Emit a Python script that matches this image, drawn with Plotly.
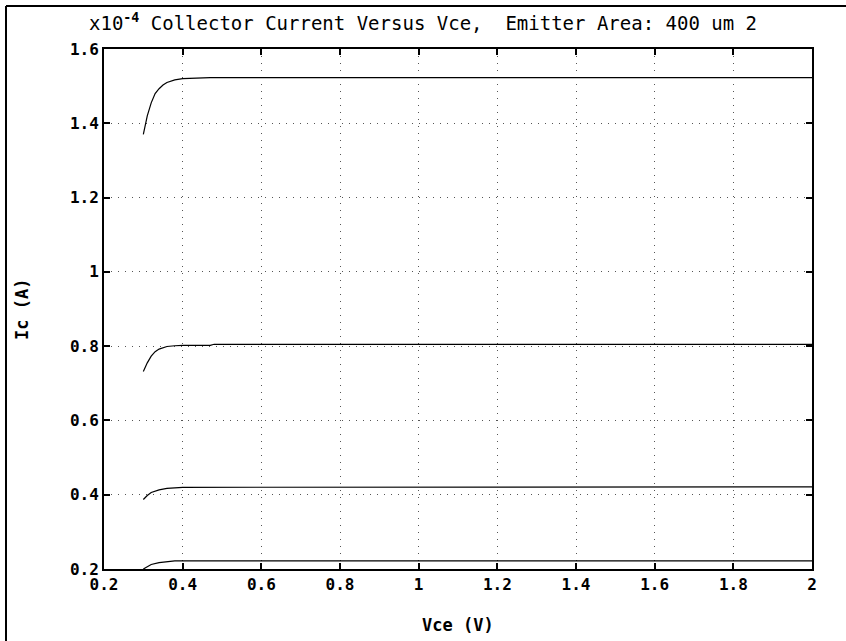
import plotly.graph_objects as go

# Vce (V) sample points and collector current (x1e-4 A) for each curve
vce_1 = [0.30, 0.31, 0.32, 0.33, 0.34, 0.35, 0.36, 0.38, 0.40, 0.46, 0.47, 2.00]
ic_1 = [1.370, 1.420, 1.455, 1.480, 1.493, 1.503, 1.510, 1.517, 1.520, 1.521, 1.523, 1.523]

vce_2 = [0.30, 0.31, 0.32, 0.33, 0.34, 0.36, 0.38, 0.40, 0.47, 0.48, 2.00]
ic_2 = [0.732, 0.755, 0.773, 0.785, 0.792, 0.799, 0.801, 0.802, 0.802, 0.805, 0.805]

vce_3 = [0.30, 0.31, 0.32, 0.34, 0.36, 0.38, 0.40, 2.00]
ic_3 = [0.387, 0.398, 0.406, 0.413, 0.417, 0.419, 0.420, 0.421]

vce_4 = [0.30, 0.31, 0.32, 0.34, 0.36, 0.38, 2.00]
ic_4 = [0.200, 0.207, 0.212, 0.217, 0.220, 0.222, 0.222]

x_ticks = [0.2, 0.4, 0.6, 0.8, 1.0, 1.2, 1.4, 1.6, 1.8, 2.0]
x_tick_labels = ["0.2", "0.4", "0.6", "0.8", "1", "1.2", "1.4", "1.6", "1.8", "2"]
y_ticks = [0.2, 0.4, 0.6, 0.8, 1.0, 1.2, 1.4, 1.6]
y_tick_labels = ["0.2", "0.4", "0.6", "0.8", "1", "1.2", "1.4", "1.6"]

title_text = "x10<sup><b>-4</b></sup> Collector Current Versus Vce,&nbsp; Emitter Area: 400 um 2"
x_title = "Vce (V)"
y_title = "Ic (A)"

FONT = "DejaVu Sans Mono"

fig = go.Figure()
for xs, ys in [(vce_1, ic_1), (vce_2, ic_2), (vce_3, ic_3), (vce_4, ic_4)]:
    fig.add_trace(go.Scatter(x=xs, y=ys, mode="lines",
                             line=dict(color="black", width=1.2),
                             showlegend=False, hoverinfo="skip"))

W, H = 846, 641
L, R, T, B = 104, 34, 49, 72
pw = W - L - R
ph = H - T - B

def px_x(p):
    return (p - L) / pw

def px_y(p):
    return (H - B - p) / ph

axis_common = dict(
    showline=True, linecolor="black", linewidth=1.8, mirror="ticks",
    ticks="inside", ticklen=6, tickcolor="black", tickwidth=1.5,
    showgrid=True, gridcolor="#555555", griddash="1px,6px", gridwidth=1.3,
    zeroline=False,
    tickfont=dict(family=FONT, size=16, color="black", weight="bold"),
)

fig.update_xaxes(range=[0.2, 2.0], tickvals=x_ticks, ticktext=x_tick_labels, **axis_common)
fig.update_yaxes(range=[0.2, 1.6], tickvals=y_ticks, ticktext=y_tick_labels, **axis_common)

fig.update_layout(
    width=W, height=H,
    margin=dict(l=L, r=R, t=T, b=B),
    plot_bgcolor="white", paper_bgcolor="white",
    annotations=[
        dict(text=title_text, xref="paper", yref="paper",
             x=px_x(423), y=px_y(22), xanchor="center", yanchor="middle",
             showarrow=False, font=dict(family=FONT, size=19, color="black")),
        dict(text=x_title, xref="paper", yref="paper",
             x=px_x(458), y=px_y(625), xanchor="center", yanchor="middle",
             showarrow=False, font=dict(family=FONT, size=17, color="black", weight="bold")),
        dict(text=y_title, xref="paper", yref="paper",
             x=px_x(22), y=px_y(310), xanchor="center", yanchor="middle", textangle=-90,
             showarrow=False, font=dict(family=FONT, size=17, color="black", weight="bold")),
    ],
    shapes=[
        dict(type="line", xref="paper", yref="paper",
             x0=px_x(6), x1=px_x(6), y0=px_y(700), y1=px_y(6),
             line=dict(color="black", width=2)),
        dict(type="line", xref="paper", yref="paper",
             x0=px_x(6), x1=px_x(900), y0=px_y(6), y1=px_y(6),
             line=dict(color="black", width=2)),
    ],
)

fig.write_html("out.html")
